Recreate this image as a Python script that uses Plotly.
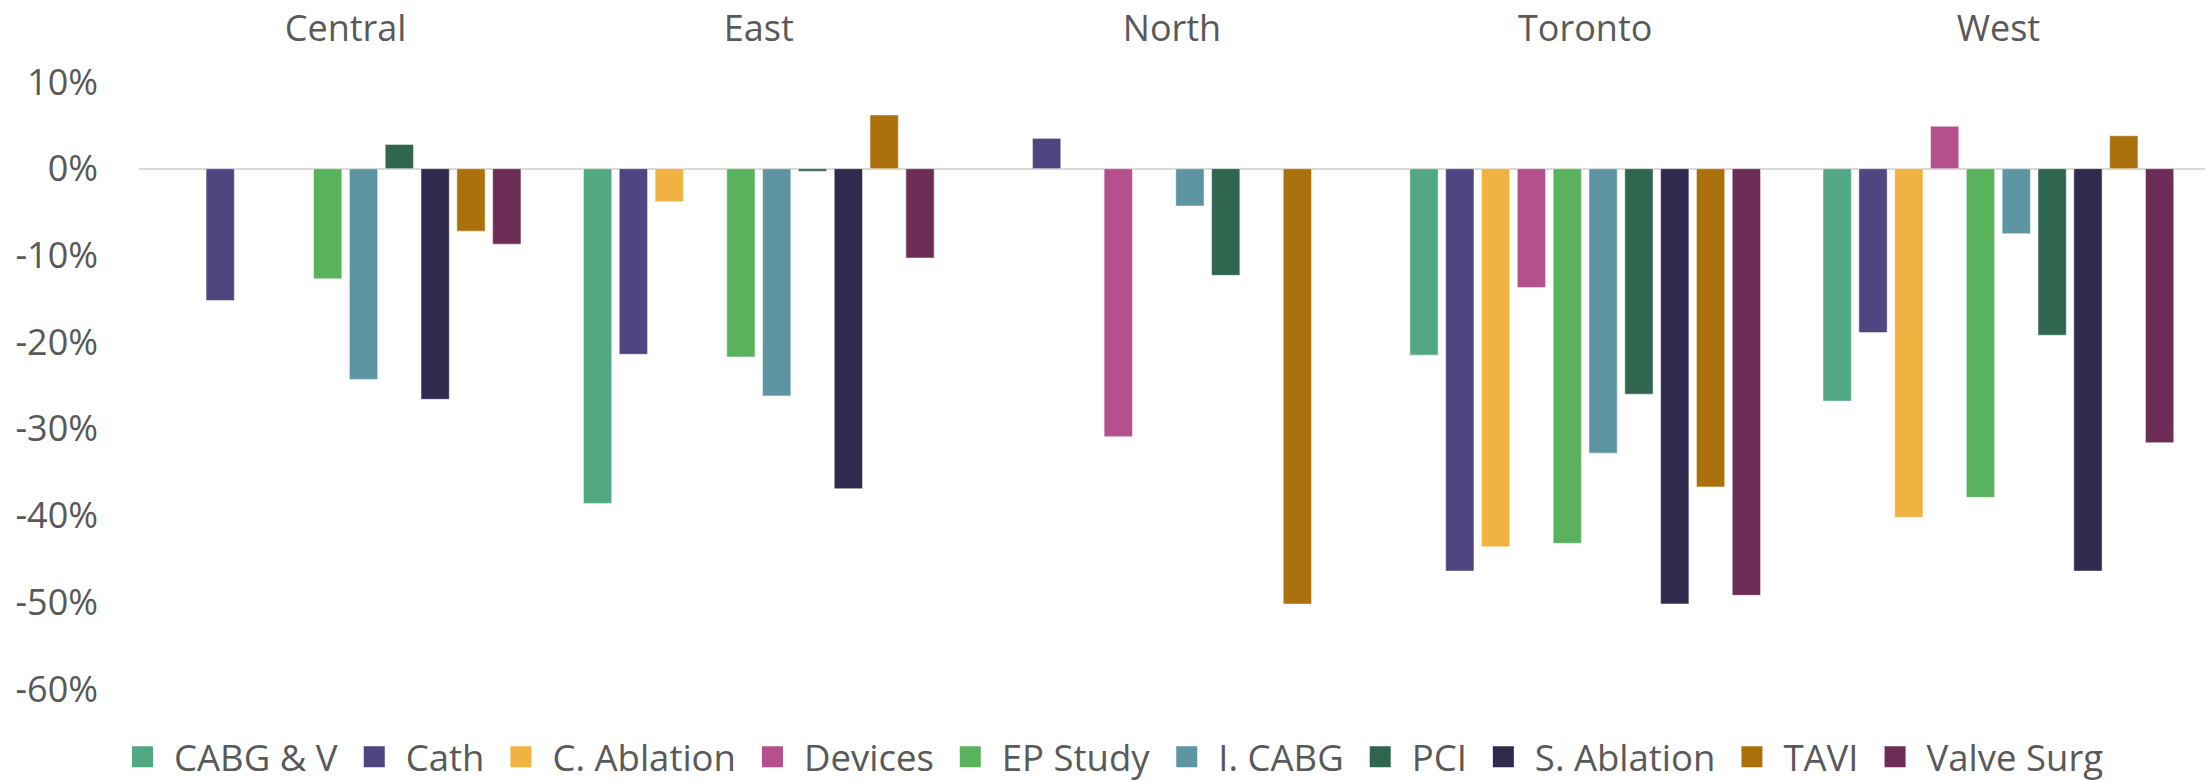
import plotly.graph_objects as go

regions = ["Central", "East", "North", "Toronto", "West"]
procedures = ["CABG & V", "Cath", "C. Ablation", "Devices", "EP Study",
              "I. CABG", "PCI", "S. Ablation", "TAVI", "Valve Surg"]

# values per procedure, ordered as regions (None = no bar)
cabg_v      = [None, -0.386, None, -0.215, -0.268]
cath        = [-0.152, -0.214, 0.035, -0.464, -0.189]
c_ablation  = [None, -0.038, None, -0.436, -0.402]
devices     = [None, None, -0.309, -0.137, 0.049]
ep_study    = [-0.127, -0.217, None, -0.432, -0.379]
i_cabg      = [-0.243, -0.262, -0.043, -0.328, -0.075]
pci         = [0.028, -0.003, -0.123, -0.260, -0.192]
s_ablation  = [-0.266, -0.369, None, -0.502, -0.464]
tavi        = [-0.072, 0.062, -0.502, -0.367, 0.038]
valve_surg  = [-0.087, -0.103, None, -0.492, -0.316]

series = [cabg_v, cath, c_ablation, devices, ep_study,
          i_cabg, pci, s_ablation, tavi, valve_surg]

colors = ["#52A883", "#4F4580", "#F0B240", "#B4508C", "#5AB25C",
          "#5E95A3", "#30654F", "#302A4D", "#AA710D", "#6E2D56"]

y_tickvals = [0.1, 0.0, -0.1, -0.2, -0.3, -0.4, -0.5, -0.6]
y_ticktext = ["10%", "0%", "-10%", "-20%", "-30%", "-40%", "-50%", "-60%"]

FONT = "Open Sans"
GRAY = "#595959"
FS = 36

fig = go.Figure()
for name, vals, col in zip(procedures, series, colors):
    fig.add_trace(go.Bar(
        x=regions, y=vals, name=name, legendgroup=name,
        marker=dict(color=col, line=dict(width=1, color="rgba(255,255,255,0.5)")),
        showlegend=False,
    ))
for name, col in zip(procedures, colors):
    fig.add_trace(go.Scatter(
        x=[None], y=[None], mode="markers", name=name, legendgroup=name,
        marker=dict(symbol="square", size=24, color=col,
                    line=dict(width=6, color=col)),
        showlegend=True,
    ))

fig.update_layout(
    width=2208, height=782,
    barmode="group", bargap=0.133, bargroupgap=0.21,
    plot_bgcolor="white", paper_bgcolor="white",
    margin=dict(l=139, r=3, t=82, b=93, autoexpand=False),
    font=dict(family=FONT, size=FS, color=GRAY),
    legend=dict(
        orientation="h", x=0.470, xanchor="center", y=-0.112, yanchor="middle",
        font=dict(family=FONT, size=FS + 0.5, color=GRAY),
        itemwidth=53, traceorder="normal", tracegroupgap=0,
    ),
)
fig.update_xaxes(
    type="category", categoryorder="array", categoryarray=regions,
    side="top", showgrid=False, showline=False, ticks="",
    ticklabelstandoff=33, automargin=False,
    tickfont=dict(family=FONT, size=FS, color=GRAY),
)
fig.update_yaxes(
    range=[-0.6, 0.1], tickvals=y_tickvals, ticktext=y_ticktext,
    showgrid=False, showline=False, ticks="",
    zeroline=True, zerolinecolor="#D9D9D9", zerolinewidth=2,
    ticklabelstandoff=40, automargin=False,
    tickfont=dict(family=FONT, size=FS, color=GRAY),
)

fig.write_html("out.html", config={"displayModeBar": False},
               post_script="document.body.style.margin='0px';")
